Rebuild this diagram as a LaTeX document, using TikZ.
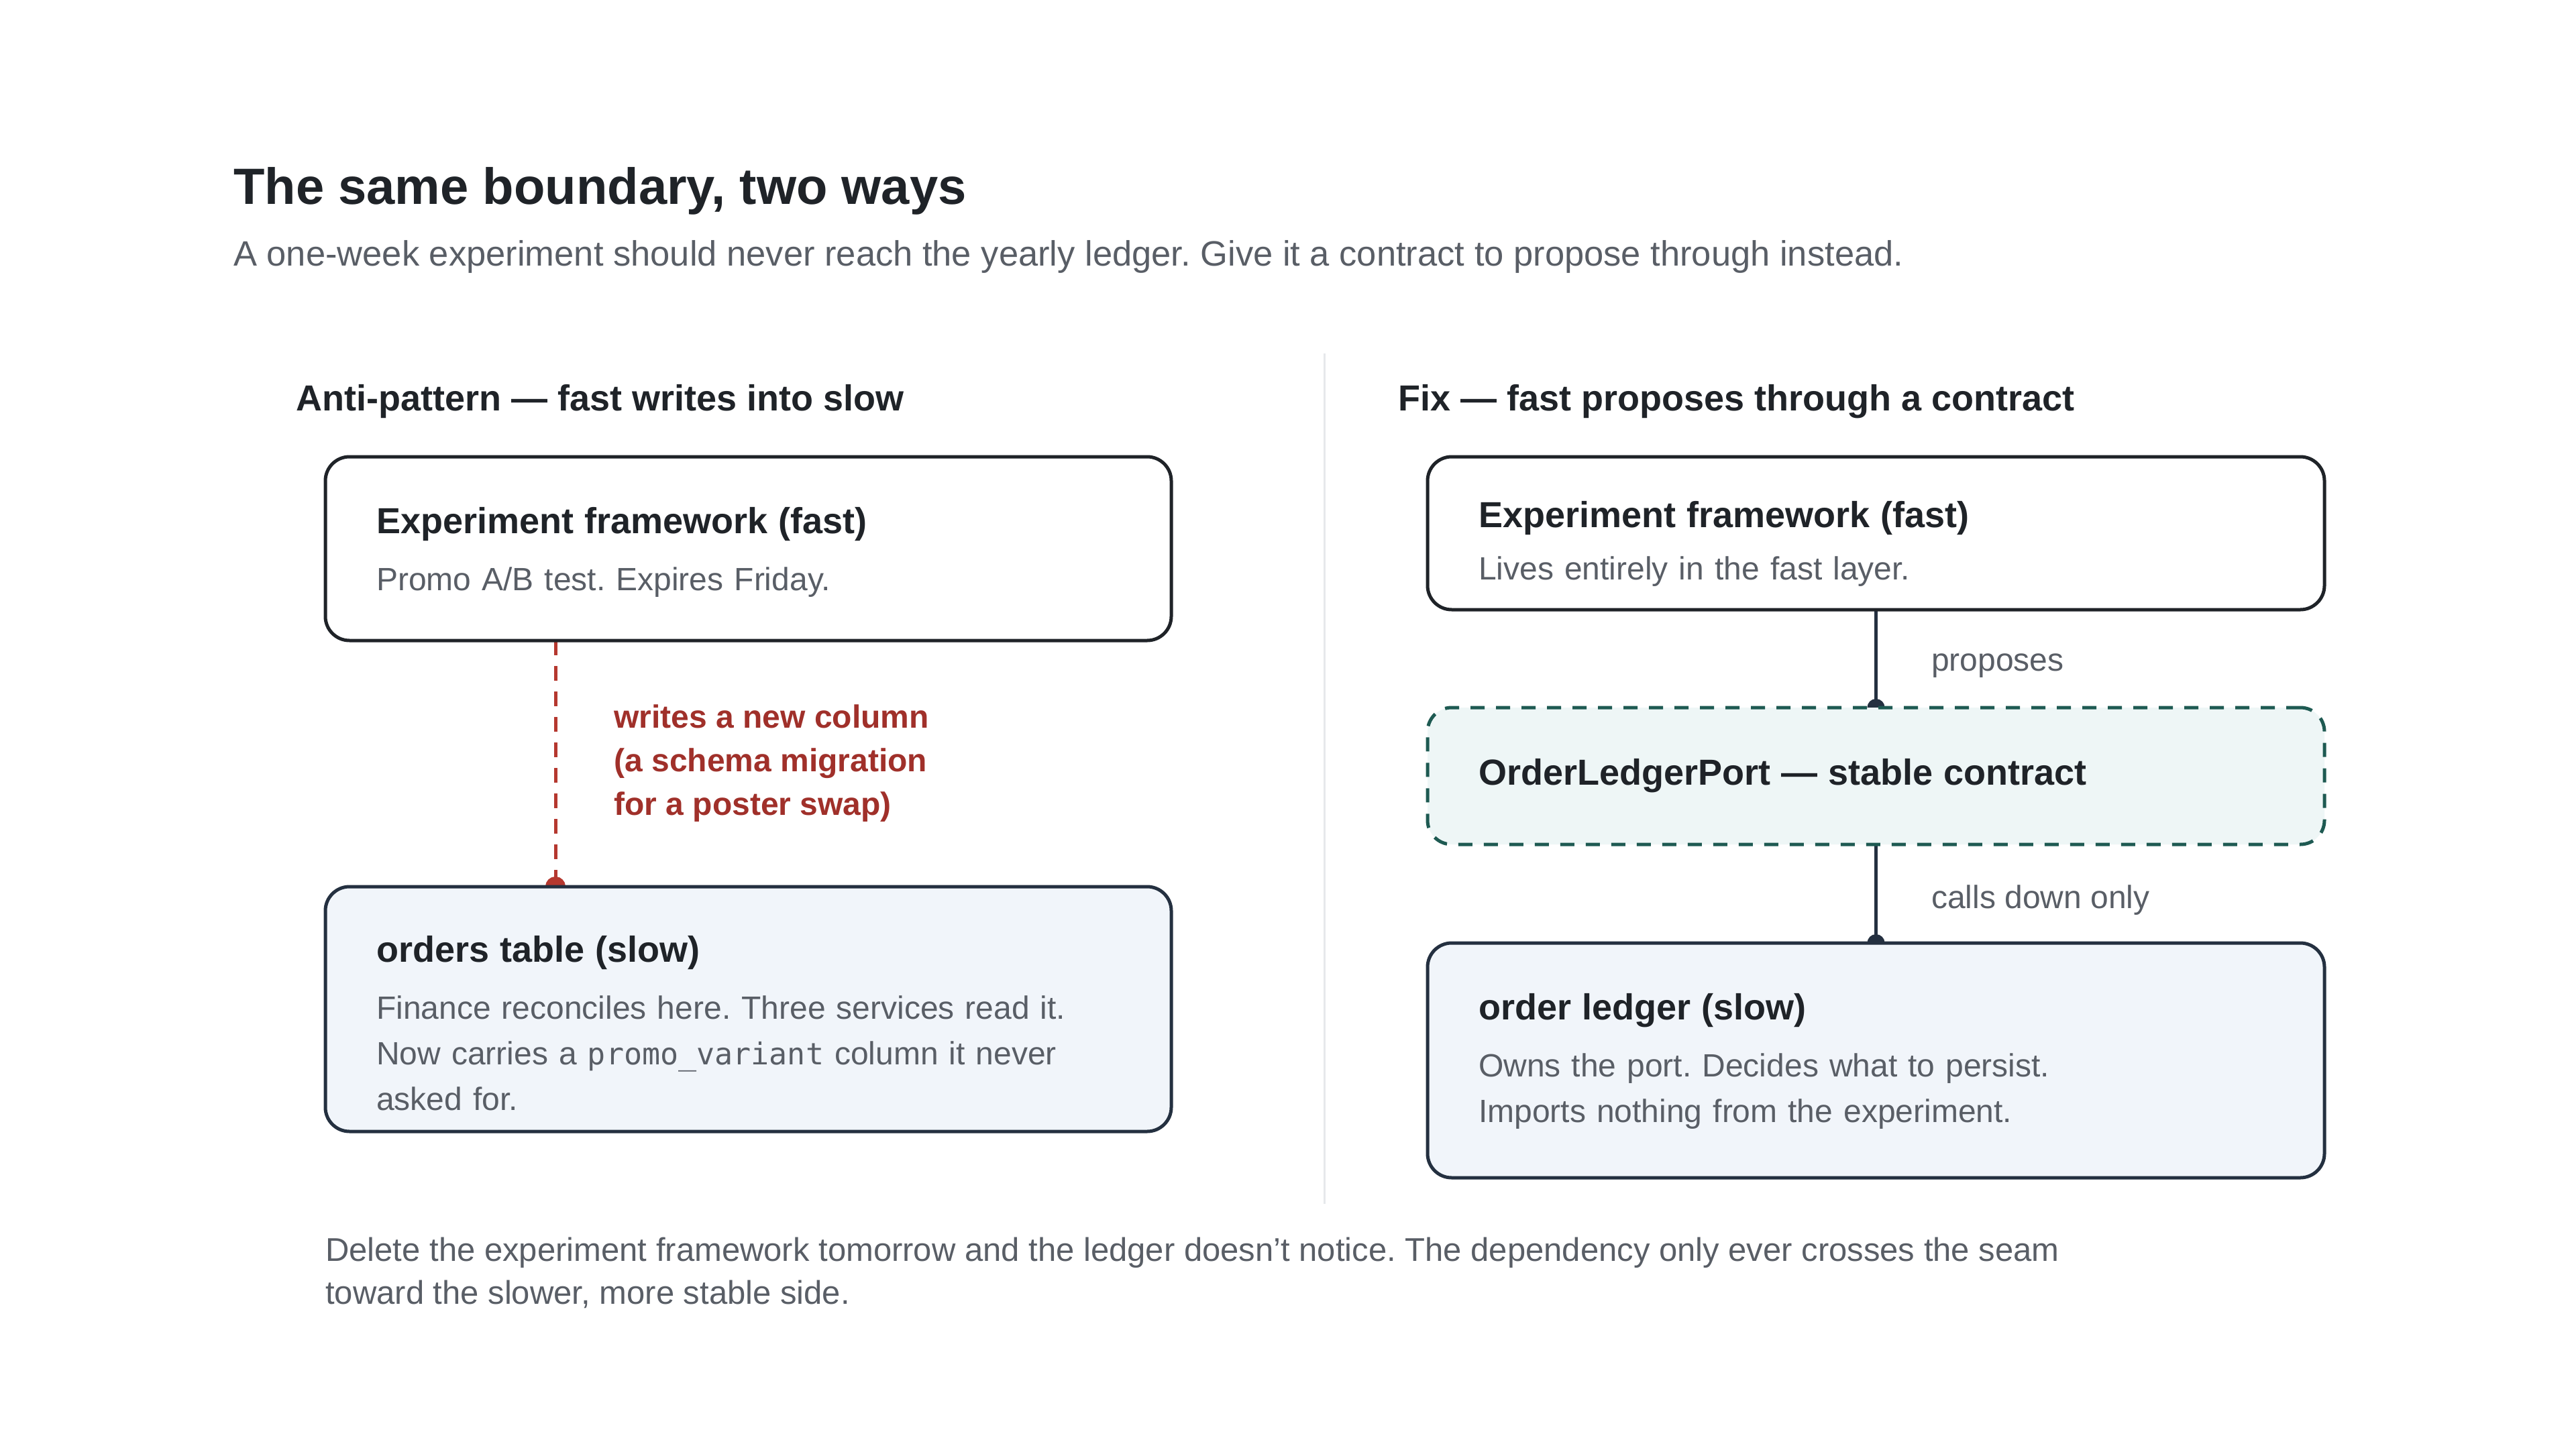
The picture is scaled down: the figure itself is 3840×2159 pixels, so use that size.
\documentclass[tikz,border=0pt]{standalone}
\usepackage{fontspec}
\setmainfont{Liberation Sans}
\setmonofont{DejaVu Sans Mono}
\usepackage{tikz}
\usetikzlibrary{positioning}
\usetikzlibrary{arrows.meta}
\usetikzlibrary{backgrounds}
\frenchspacing

\definecolor{inkdark}{HTML}{1F2328}
\definecolor{inkgray}{HTML}{595E66}
\definecolor{slateline}{HTML}{243040}
\definecolor{slowfill}{HTML}{F1F5FA}
\definecolor{portfill}{HTML}{EEF6F6}
\definecolor{portline}{HTML}{1E5A52}
\definecolor{warnred}{HTML}{B5382F}
\definecolor{warntext}{HTML}{A0302A}
\definecolor{seamgray}{HTML}{E6E8EB}

\newcommand{\titlefont}{\fontsize{76}{90}\selectfont\bfseries}
\newcommand{\headfont}{\fontsize{54}{68}\selectfont\bfseries}
\newcommand{\bodyfont}{\fontsize{48}{68}\selectfont}
\newcommand{\codefont}{\fontsize{45}{68}\selectfont\ttfamily}
\newcommand{\cardtitle}[1]{{\headfont\color{inkdark}#1}}

\tikzset{
    card/.style={line width=5pt, rounded corners=36pt, outer sep=0pt,
        inner xsep=76pt, inner ysep=0pt, align=left, font=\bodyfont, text=inkgray},
    fastcard/.style={card, draw=inkdark, fill=white},
    slowcard/.style={card, draw=slateline, fill=slowfill},
    portcard/.style={card, draw=portline, fill=portfill, dash pattern=on 21pt off 17pt},
    leftbox/.style={minimum width=1261pt},
    rightbox/.style={minimum width=1337pt},
    cardtext/.style={inner sep=0pt, align=left, font=\bodyfont, text=inkgray},
    lefttext/.style={cardtext, text width=1109pt},
    righttext/.style={cardtext, text width=1185pt},
    colhead/.style={anchor=base west, inner sep=0pt, font=\headfont, text=inkdark},
    link/.style={draw=slateline, line width=5pt, -{Circle[length=26pt]}, shorten >=-13pt},
    badlink/.style={draw=warnred, line width=5pt, dash pattern=on 22pt off 16pt,
        -{Circle[length=30pt]}, shorten >=-15pt},
    linklabel/.style={midway, anchor=west, inner sep=0pt, font=\bodyfont, text=inkgray},
    warnnote/.style={midway, anchor=west, inner sep=0pt, align=left,
        font=\fontsize{48}{65}\selectfont\bfseries, text=warntext},
}

\begin{document}
\begin{tikzpicture}[x=1pt, y=-1pt]
    \useasboundingbox (0,0) rectangle (3840,2159);

    % heading
    \node[anchor=base west, inner sep=0pt, font=\titlefont, text=inkdark] (title) at (348,304) {The same boundary, two ways};
    \node[anchor=base west, inner sep=0pt, font=\fontsize{52.5}{64}\selectfont, text=inkgray] (subtitle) at (348,396)
        {A one-week experiment should never reach the yearly ledger. Give it a contract to propose through instead.};

    % left column
    \node[colhead] (antiHead) at (441,612) {Anti-pattern — fast writes into slow};
    \node[fastcard, leftbox, minimum height=274pt] (fastL) at (1115.5,818) {};
    \node[lefttext, below right=75pt and 76pt of fastL.north west] (fastLtext)
        {\cardtitle{Experiment framework (fast)}\\[17pt]Promo A/B test. Expires Friday.};
    \node[slowcard, leftbox, minimum height=365pt, below=367pt of fastL] (slowL) {};
    \node[lefttext, below right=73pt and 76pt of slowL.north west] (slowLtext)
        {\cardtitle{orders table (slow)}\\[17pt]Finance reconciles here. Three services read it.\\
        Now carries a {\codefont promo\_variant} column it never\\asked for.};
    \coordinate (seamL) at (828,0);

    % right column
    \node[colhead] (fixHead) at (2084,612) {Fix — fast proposes through a contract};
    \node[fastcard, rightbox, minimum height=228pt] (fastR) at (2796.5,795) {};
    \node[righttext, below right=66pt and 76pt of fastR.north west] (fastRtext)
        {\cardtitle{Experiment framework (fast)}\\[10pt]Lives entirely in the fast layer.};
    \node[portcard, rightbox, text width=1185pt, minimum height=204pt, below=146pt of fastR] (port)
        {\cardtitle{OrderLedgerPort — stable contract}};
    \node[slowcard, rightbox, minimum height=350pt, below=147pt of port] (ledger) {};
    \node[righttext, below right=75pt and 76pt of ledger.north west] (ledgertext)
        {\cardtitle{order ledger (slow)}\\[17pt]Owns the port. Decides what to persist.\\Imports nothing from the experiment.};

    \node[anchor=north west, inner sep=0pt, align=left, font=\fontsize{49}{64}\selectfont, text=inkgray] (footnote) at (485,1845)
        {Delete the experiment framework tomorrow and the ledger doesn't notice. The dependency only ever crosses the seam\\
        toward the slower, more stable side.};

    \begin{scope}[on background layer]
        \fill[white] (0,0) rectangle (3840,2159);
        \draw[seamgray, line width=3pt] (1974,527) -- (1974,1795);
        \draw[badlink] (fastL.south -| seamL) -- node[warnnote, xshift=85pt]
            {writes a new column\\(a schema migration\\for a poster swap)} (slowL.north -| seamL);
        \draw[link] (fastR) -- node[linklabel, xshift=80pt, yshift=-11pt] {proposes} (port);
        \draw[link] (port) -- node[linklabel, xshift=80pt, yshift=-10pt] {calls down only} (ledger);
    \end{scope}
\end{tikzpicture}
\end{document}
